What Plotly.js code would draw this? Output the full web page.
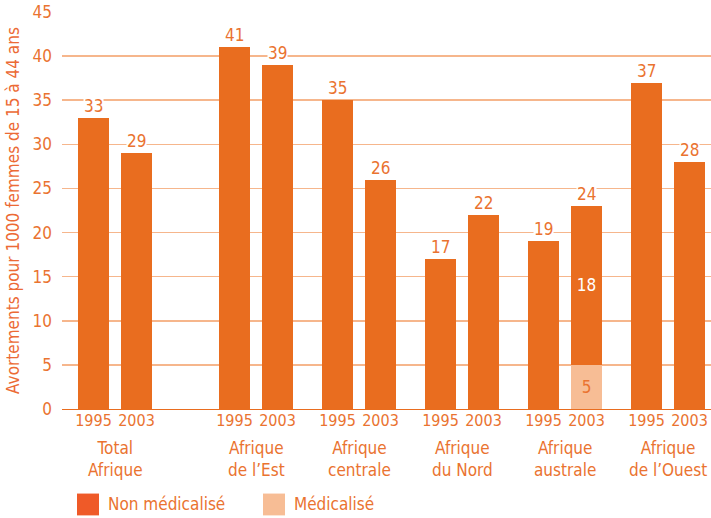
<!DOCTYPE html>
<html><head><meta charset="utf-8">
<script src="https://cdn.plot.ly/plotly-3.0.1.min.js"></script>
<style>html,body{margin:0;padding:0;background:#fff}#c{width:711px;height:518px}</style>
</head><body><div id="c"></div>
<script>
const regions = ['Total<br>Afrique','Afrique<br>de l’Est','Afrique<br>centrale','Afrique<br>du Nord','Afrique<br>australe','Afrique<br>de l’Ouest'];
const years = ['1995','2003'];
const nonMed1995 = [33,41,35,17,19,37];
const nonMed2003 = [29,39,26,22,18,28];
const med1995 = [0,0,0,0,0,0];
const med2003 = [0,0,0,0,5,0];
const totalLabels1995 = ['33','41','35','17','19','37'];
const totalLabels2003 = ['29','39','26','22','24','28'];

const ORANGE = '#e96d1f', LIGHT = '#f7bd95', TXT = '#ea7330', GRID = '#f6b68c';
const FONT = '"Liberation Sans Narrow","DejaVu Sans Condensed","Roboto Condensed",Arial Narrow,sans-serif';

// layout helpers (pixel-like units on the x axis)
const firstCenter = 115, pitch = 103, firstGap = 38, half = 21.5, barW = 31;
const gc = regions.map((r,i)=> firstCenter + i*pitch + (i>0?firstGap:0));
const xs = [], nm = [], md = [], lab = [];
gc.forEach((c,i)=>{
  xs.push(c-half, c+half);
  nm.push(nonMed1995[i], nonMed2003[i]);
  md.push(med1995[i], med2003[i]);
  lab.push(totalLabels1995[i], totalLabels2003[i]);
});
const yearTicks = xs.map((x,k)=>years[k%2]);

const traces = [
  {type:'bar', name:'Médicalisé', x:xs, y:md, width:barW, marker:{color:LIGHT},
   text: md.map(v=>v>0?String(v):''), textposition:'inside', insidetextanchor:'middle',
   textfont:{family:FONT,size:17,color:TXT}, hoverinfo:'skip', showlegend:false},
  {type:'bar', name:'Non médicalisé', x:xs, y:nm, width:barW, marker:{color:ORANGE},
   text: nm.map((v,k)=>md[k]>0?String(v):''), textposition:'inside', insidetextanchor:'middle',
   textfont:{family:FONT,size:17,color:'#ffffff'}, hoverinfo:'skip', showlegend:false}
];

const ann = [];
xs.forEach((x,k)=>{
  ann.push({x:x, y:nm[k]+md[k], xref:'x', yref:'y', text:lab[k], showarrow:false,
    yanchor:'bottom', yshift:1, bgcolor:'#ffffff', borderpad:0,
    font:{family:FONT,size:17,color:TXT}});
});
gc.forEach((c,i)=>{
  ann.push({x:c, y:-0.067, xref:'x', yref:'paper', text:regions[i], showarrow:false,
    yanchor:'top', xanchor:'center', font:{family:FONT,size:17,color:TXT}});
});
// legend
const legY0 = -0.213, legY1 = -0.268;
ann.push({x:106, y:(legY0+legY1)/2, xref:'x', yref:'paper', text:'Non médicalisé', showarrow:false,
  xanchor:'left', yanchor:'middle', font:{family:FONT,size:17,color:TXT}});
ann.push({x:292, y:(legY0+legY1)/2, xref:'x', yref:'paper', text:'Médicalisé', showarrow:false,
  xanchor:'left', yanchor:'middle', font:{family:FONT,size:17,color:TXT}});
const shapes = [
  {type:'rect', xref:'x', yref:'paper', x0:77, x1:99, y0:legY1, y1:legY0, fillcolor:'#ef5a28', line:{width:0}},
  {type:'rect', xref:'x', yref:'paper', x0:263, x1:285, y0:legY1, y1:legY0, fillcolor:LIGHT, line:{width:0}}
];

const layout = {
  width:711, height:518, margin:{l:62,r:0,t:12,b:109},
  paper_bgcolor:'#fff', plot_bgcolor:'#fff', barmode:'stack', showlegend:false,
  font:{family:FONT,color:TXT},
  xaxis:{range:[62,711], tickvals:xs, ticktext:yearTicks, ticks:'', showgrid:false,
    zeroline:false, showline:false, tickfont:{family:FONT,size:16,color:TXT}, fixedrange:true},
  yaxis:{range:[0,45], dtick:5, showgrid:true, gridcolor:GRID, gridwidth:1.5,
    zeroline:true, zerolinecolor:ORANGE, zerolinewidth:1, ticks:'', ticklabelstandoff:9,
    tickfont:{family:FONT,size:17,color:TXT},
    title:{text:'Avortements pour 1000 femmes de 15 à 44 ans', font:{family:FONT,size:17,color:'#ec6a35'}, standoff:8}},
  annotations:ann, shapes:shapes
};
Plotly.newPlot('c', traces, layout, {displayModeBar:false, staticPlot:true});
</script></body></html>
